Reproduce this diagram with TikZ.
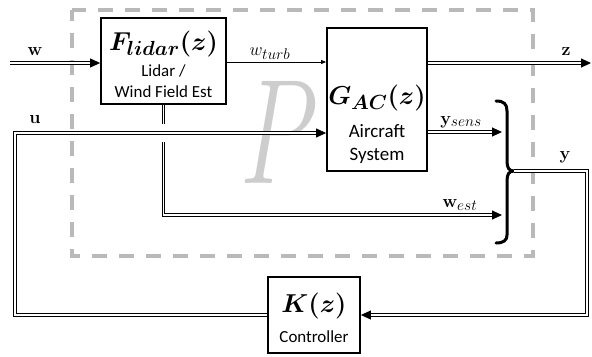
\RequirePackage{fix-cm}
\documentclass[tikz,border=0pt]{standalone}
\usepackage[no-math]{fontspec}
\setmainfont{Carlito}
\usepackage{bm}
\usetikzlibrary{arrows.meta}
\DeclareMathSizes{26}{26}{20.5}{15}
\DeclareMathSizes{18}{18}{15.5}{12}
\definecolor{dashgray}{RGB}{185,185,185}
\definecolor{pgray}{RGB}{205,205,205}
\newcommand{\txtsz}{\fontsize{17}{20}\selectfont}
\newcommand{\gtxtsz}{\fontsize{19}{22}\selectfont}
\newcommand{\mthsz}{\fontsize{26}{30}\selectfont}
\newcommand{\lblsz}{\fontsize{18}{21}\selectfont}
\newcommand{\bigsz}{\fontsize{150}{150}\selectfont}
\tikzset{
  blk/.style={draw=black, line width=1.8bp, fill=white, inner sep=0pt},
  dbl/.style={double=white, double distance=1.8bp, line width=0.9bp},
  arr/.style={-{Triangle[length=10bp,width=9bp]}},
  tarr/.style={-{Triangle[length=5bp,width=4bp]}, line width=0.8bp},
  txt/.style={anchor=base, inner sep=0pt, font=\txtsz},
  gtxt/.style={anchor=base, inner sep=0pt, font=\gtxtsz},
  mth/.style={anchor=base, inner sep=0pt, font=\mthsz},
  lbl/.style={anchor=base, inner sep=0pt, font=\lblsz},
  pbox/.style={draw=dashgray, line width=3.5bp, dash pattern=on 15bp off 12bp, dash phase=4bp},
  brace/.style={draw=black, line width=3bp, line cap=round}
}
\begin{document}
\begin{tikzpicture}[x=1bp,y=-1bp]
\useasboundingbox (0,0) rectangle (592,356);
% big P
\node[inner sep=0pt, anchor=base, text=pgray, font=\bigsz, xscale=0.68] (Pl) at (279,183) {$P$};
% dashed P box
\draw[pbox] (72,10) rectangle (533,256);
% blocks
\node[blk, minimum width=125bp, minimum height=86bp] (F) at (163.5,61) {};
\node[blk, minimum width=100bp, minimum height=143bp] (G) at (377,99.5) {};
\node[blk, minimum width=92bp, minimum height=76bp] (K) at (314,315) {};
% block texts
\node[mth] (Ft) at (163.5,50) {$\bm{F_{lidar}(z)}$};
\node[txt] (Ft2) at (163.5,76) {Lidar /};
\node[txt] (Ft3) at (163.5,97) {Wind Field Est};
\node[mth] (Gt) at (377,104) {$\bm{G_{AC}(z)}$};
\node[gtxt] (Gt2) at (377,137) {Aircraft};
\node[gtxt] (Gt3) at (377,160) {System};
\node[mth] (Kt) at (314,312) {$\bm{K(z)}$};
\node[txt] (Kt2) at (314,342) {Controller};
% coordinates
\coordinate (win) at (10,63);
\coordinate (r1) at (0,62);
\coordinate (zout) at (591,63);
\coordinate (rs) at (0,132);
\coordinate (ysens) at (502,132);
\coordinate (west) at (502,215);
\coordinate (tip) at (514,171);
\coordinate (ycorner) at (587,171);
\coordinate (ucorner) at (15,133);
\coordinate (rk) at (0,315);
% brace
\draw[brace] (496,101) .. controls (504,101) and (507,104) .. (507,111) -- (507,161)
  .. controls (507,168) and (509,171) .. (tip)
  .. controls (509,171) and (507,174) .. (507,181) -- (507,235)
  .. controls (507,240) and (504,243) .. (496,243);
% connectors
\draw[dbl,arr] (win) -- (win -| F.west);
\draw[tarr] (F.east |- r1) -- (G.west |- r1);
\draw[dbl,arr] (G.east |- zout) -- (zout);
\draw[dbl,arr] (G.east |- rs) -- (ysens);
\draw[dbl,arr] (F.south) -- (F.south |- west) -- (west);
\fill[white] (158,124) rectangle (169,142);
\draw[dbl,arr] (K.west |- rk) -- (ucorner |- rk) -- (ucorner) -- (ucorner -| G.west);
\draw[dbl,arr] (tip) -- (ycorner) -- (ycorner |- rk) -- (K.east |- rk);
% labels
\node[lbl] (lw) at (35,55) {$\mathbf{w}$};
\node[lbl] (lu) at (35,123) {$\mathbf{u}$};
\node[lbl] (lwt) at (270,55) {$w_{turb}$};
\node[lbl] (lz) at (566,55) {$\mathbf{z}$};
\node[lbl] (lys) at (461,124) {$\mathbf{y}_{sens}$};
\node[lbl] (ly) at (565,159) {$\mathbf{y}$};
\node[lbl] (lwe) at (460,207) {$\mathbf{w}_{est}$};
\end{tikzpicture}
\end{document}
